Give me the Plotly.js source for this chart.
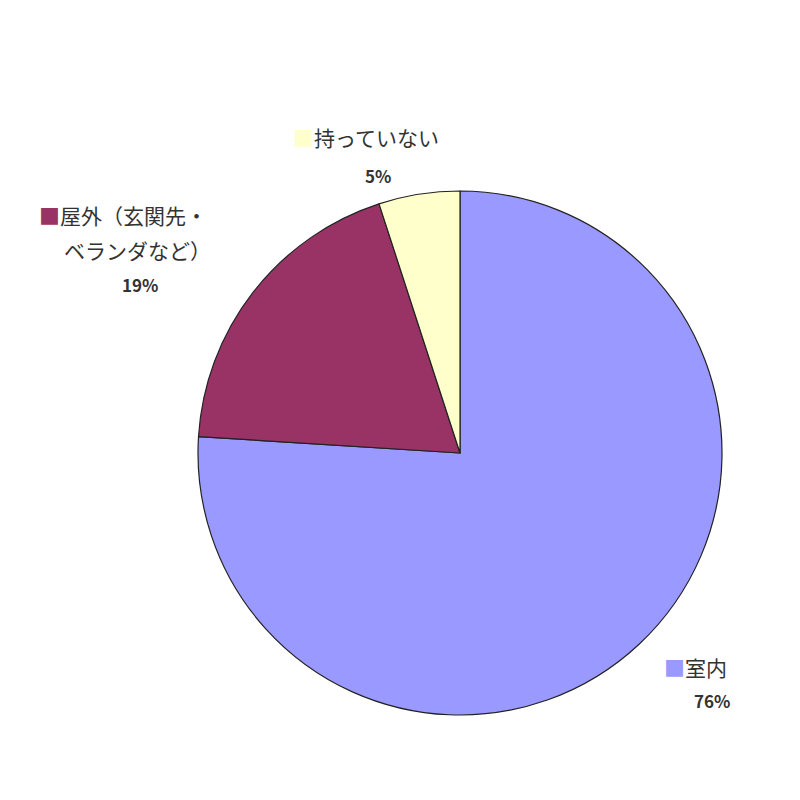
<!DOCTYPE html>
<html>
<head>
<meta charset="utf-8">
<script src="https://cdn.plot.ly/plotly-3.0.1.min.js"></script>
<style>
  html, body { margin:0; padding:0; background:#fff; }
  #chart { width:800px; height:800px; }
</style>
</head>
<body>
<div id="chart"></div>
<script>
  // --------- Datos ---------
  const labels  = ['室内', '屋外（玄関先・ベランダなど）', '持っていない'];
  const values  = [76, 19, 5];
  const colors  = ['#9999FF', '#993366', '#FFFFCC'];
  // etiquetas tal como salen en el gráfico (partidas en líneas)
  const labelLines = [['室内'], ['屋外（玄関先・', 'ベランダなど）'], ['持っていない']];

  // posición (px) del centro de cada línea de texto
  const labelPos = [
    [[695, 667], [712, 700]],
    [[123, 215], [137, 250], [140, 285]],
    [[366, 137], [378, 175]]
  ];

  const W = 800, H = 800;
  const px = (x, y) => ({ x: x / W, y: 1 - y / H });

  const annotations = [];
  labels.forEach((lab, i) => {
    const lines = labelLines[i].slice();
    lines[0] = `<span style="color:${colors[i]}">■</span>` + lines[0];
    lines.push('<b>' + values[i] + '%</b>');
    lines.forEach((t, j) => {
      const p = px(labelPos[i][j][0], labelPos[i][j][1]);
      annotations.push({
        text: t, x: p.x, y: p.y, xref: 'paper', yref: 'paper',
        xanchor: 'center', yanchor: 'middle', showarrow: false,
        font: { family: '"Noto Sans CJK JP", sans-serif', size: j === lines.length - 1 ? 17 : 21, color: '#333' }
      });
    });
  });

  const cx = 460, cy = 453, r = 262;
  const trace = {
    type: 'pie',
    labels: labels,
    values: values,
    sort: false,
    direction: 'clockwise',
    rotation: 0,
    marker: { colors: colors, line: { color: '#222', width: 1.2 } },
    textinfo: 'none',
    hoverinfo: 'label+percent',
    domain: { x: [(cx - r) / W, (cx + r) / W], y: [1 - (cy + r) / H, 1 - (cy - r) / H] }
  };

  Plotly.newPlot('chart', [trace], {
    width: W, height: H,
    margin: { t: 0, r: 0, b: 0, l: 0 },
    paper_bgcolor: '#fff',
    showlegend: false,
    annotations: annotations
  }, { displayModeBar: false, staticPlot: true });
</script>
</body>
</html>
